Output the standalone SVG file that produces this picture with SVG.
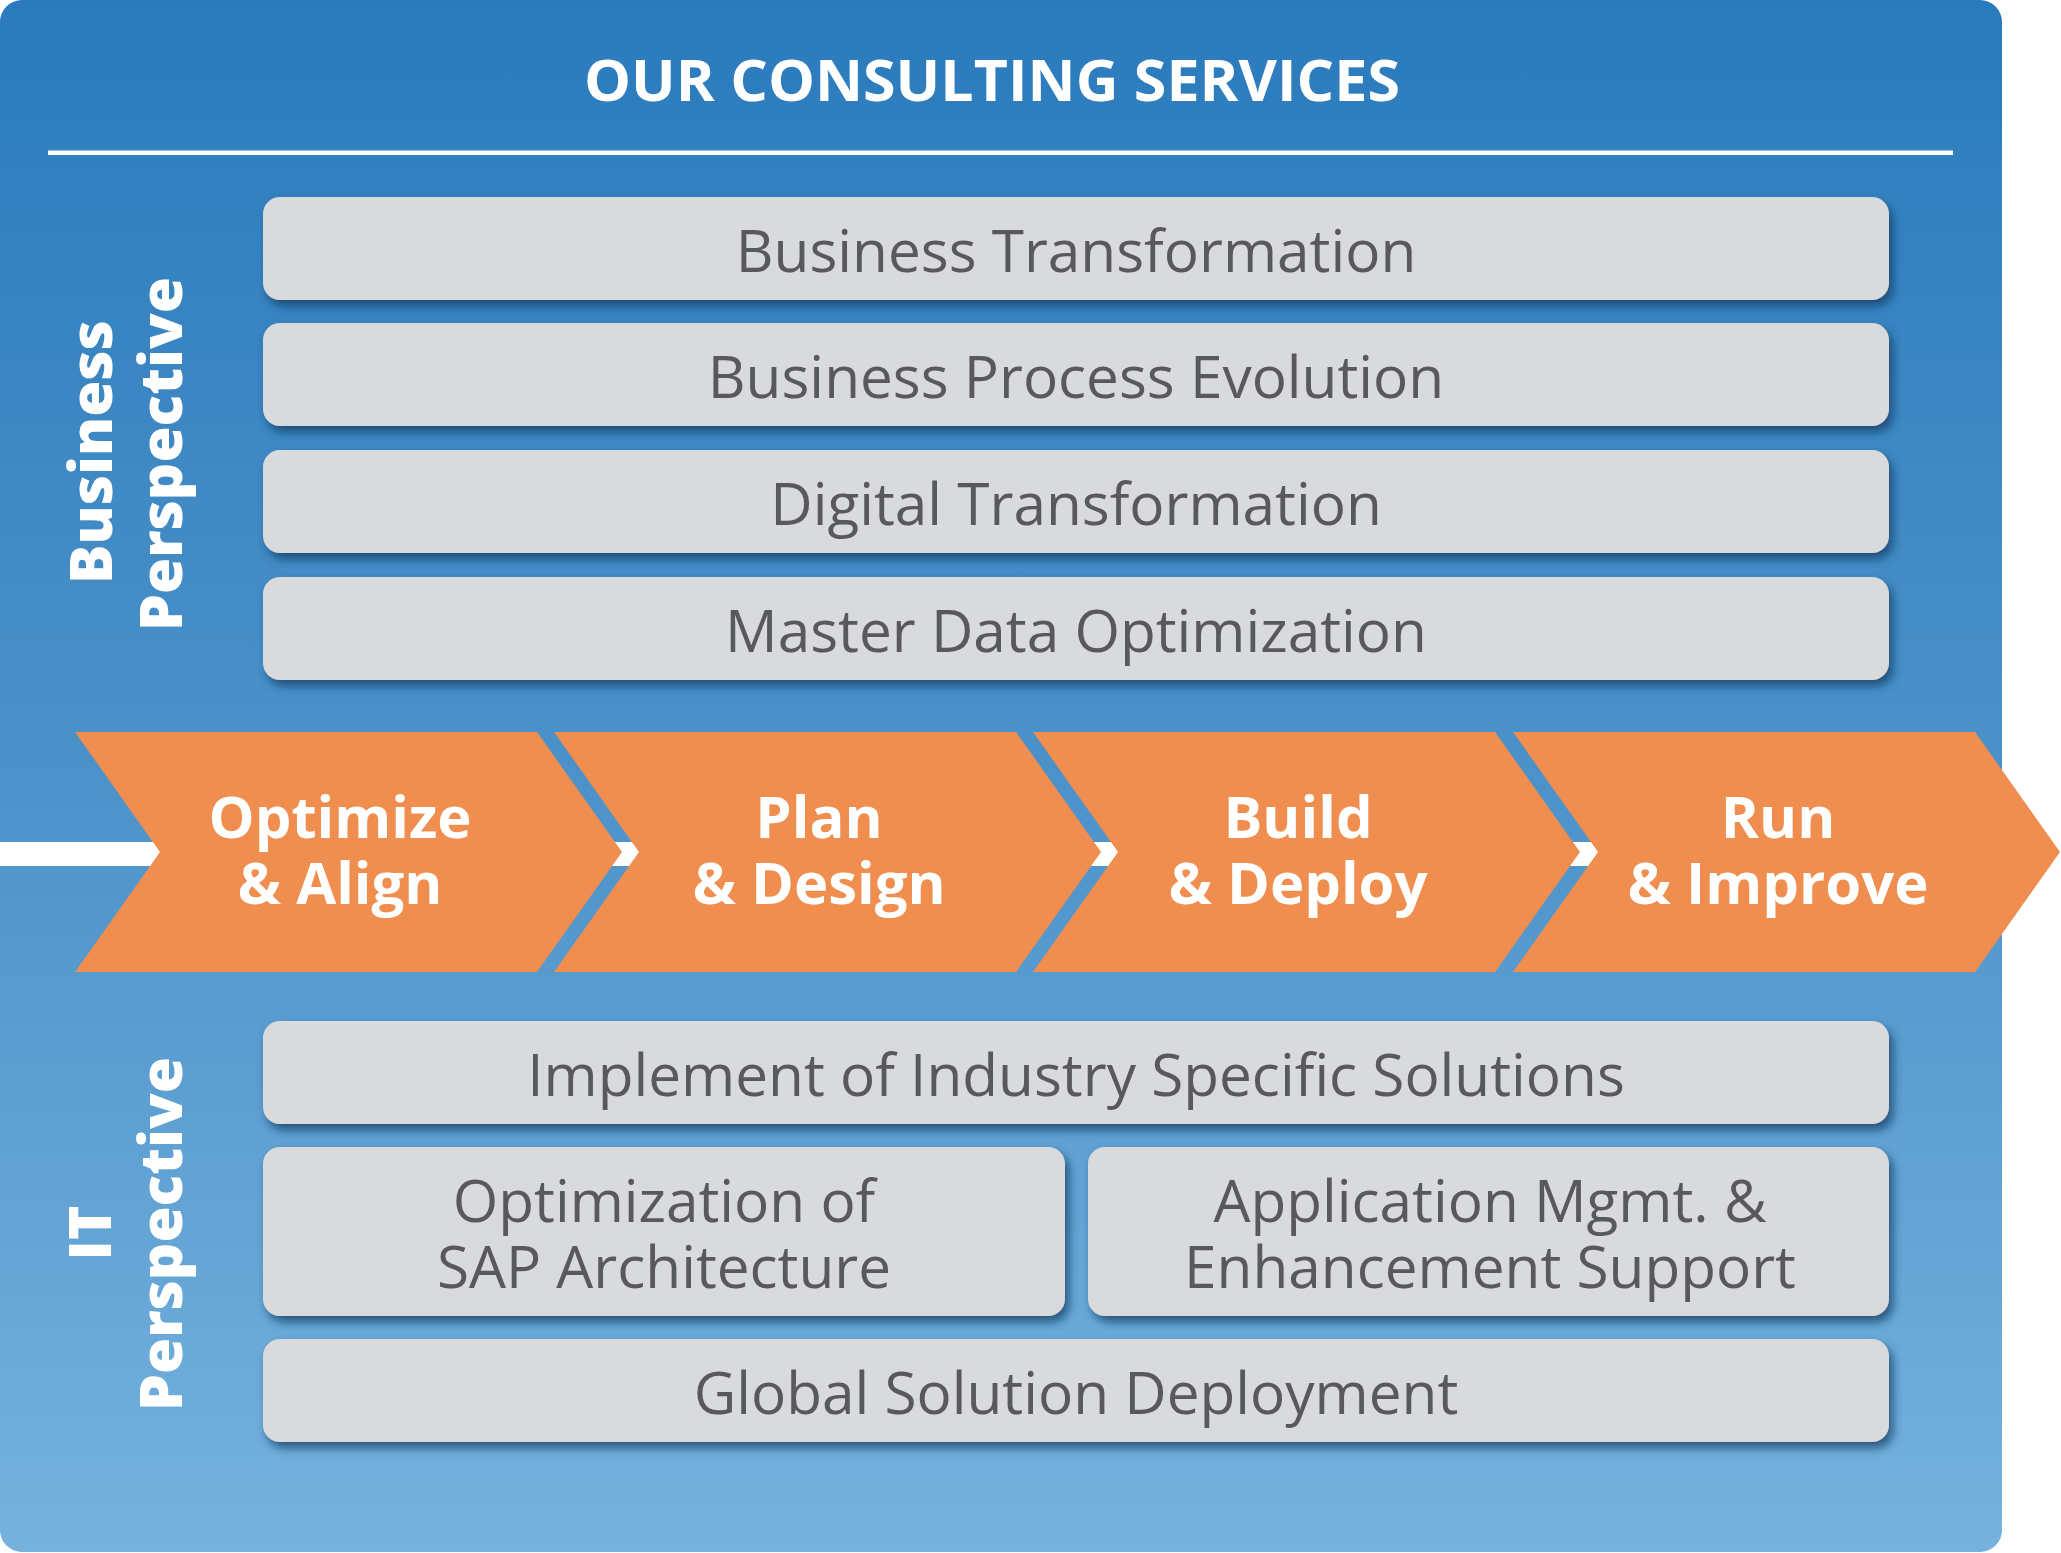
<svg xmlns="http://www.w3.org/2000/svg" width="2061" height="1553" viewBox="0 0 2061 1553">
<defs>
<linearGradient id="bg" x1="0" y1="0" x2="0" y2="1">
<stop offset="0" stop-color="#2a7bbd"/>
<stop offset="0.5" stop-color="#4c92c9"/>
<stop offset="1" stop-color="#75b2de"/>
</linearGradient>
<filter id="sh" x="-5%" y="-30%" width="110%" height="170%">
<feDropShadow dx="4" dy="6" stdDeviation="5" flood-color="#163a60" flood-opacity="0.75"/>
</filter>
<style>
.box{fill:#d9dadc;filter:url(#sh)}
.bt{font-family:"Open Sans","Liberation Sans",sans-serif;font-size:58.5px;fill:#58595b;text-anchor:middle}
.ct{font-family:"Open Sans","Liberation Sans",sans-serif;font-size:58px;font-weight:700;fill:#ffffff;text-anchor:middle}
.vt{font-family:"Open Sans","Liberation Sans",sans-serif;font-size:58.5px;font-weight:800;fill:#ffffff;text-anchor:middle}
.chev{fill:#f08e4f}
</style>
</defs>
<rect x="0" y="0" width="2002" height="1552" rx="22" fill="url(#bg)"/>
<g id="title">
<text x="992" y="101" font-family="'Open Sans','Liberation Sans',sans-serif" font-size="58" font-weight="700" fill="#ffffff" text-anchor="middle" textLength="816" lengthAdjust="spacingAndGlyphs">OUR CONSULTING SERVICES</text>
<rect x="48" y="150.5" width="1905" height="4.5" fill="#ffffff"/>
</g>
<g id="label-business">
<text class="vt" transform="translate(112,452) rotate(-90)">Business</text>
<text class="vt" transform="translate(182,454) rotate(-90)">Perspective</text>
</g>
<g id="label-it">
<text class="vt" transform="translate(111,1233) rotate(-90)">IT</text>
<text class="vt" transform="translate(182,1234) rotate(-90)">Perspective</text>
</g>
<g id="n-business-transformation">
<rect class="box" x="263" y="197" width="1626" height="103" rx="17"/>
<text class="bt" x="1076" y="272">Business Transformation</text>
</g>
<g id="n-business-process-evolution">
<rect class="box" x="263" y="323" width="1626" height="103" rx="17"/>
<text class="bt" x="1076" y="398">Business Process Evolution</text>
</g>
<g id="n-digital-transformation">
<rect class="box" x="263" y="450" width="1626" height="103" rx="17"/>
<text class="bt" x="1076" y="525">Digital Transformation</text>
</g>
<g id="n-master-data">
<rect class="box" x="263" y="577" width="1626" height="103" rx="17"/>
<text class="bt" x="1076" y="652">Master Data Optimization</text>
</g>
<g id="connectors">
<rect x="0" y="842" width="2000" height="24" fill="#ffffff"/>
</g>
<g id="n-optimize">
<polygon class="chev" points="75,732 537,732 622,852 537,972 75,972 160,852"/>
<text class="ct" x="340" y="838">Optimize</text>
<text class="ct" x="340" y="904">&amp; Align</text>
</g>
<g id="n-plan">
<polygon class="chev" points="554,732 1016,732 1101,852 1016,972 554,972 639,852"/>
<text class="ct" x="819" y="838">Plan</text>
<text class="ct" x="819" y="904">&amp; Design</text>
</g>
<g id="n-build">
<polygon class="chev" points="1033,732 1495,732 1580,852 1495,972 1033,972 1118,852"/>
<text class="ct" x="1298" y="838">Build</text>
<text class="ct" x="1298" y="904">&amp; Deploy</text>
</g>
<g id="n-run">
<polygon class="chev" points="1513,732 1975,732 2060,852 1975,972 1513,972 1598,852"/>
<text class="ct" x="1778" y="838">Run</text>
<text class="ct" x="1778" y="904">&amp; Improve</text>
</g>
<g id="n-industry">
<rect class="box" x="263" y="1021" width="1626" height="103" rx="17"/>
<text class="bt" x="1076" y="1096">Implement of Industry Specific Solutions</text>
</g>
<g id="n-sap-arch">
<rect class="box" x="263" y="1147" width="802" height="169" rx="17"/>
<text class="bt" x="664" y="1222">Optimization of</text>
<text class="bt" x="664" y="1288">SAP Architecture</text>
</g>
<g id="n-app-mgmt">
<rect class="box" x="1088" y="1147" width="801" height="169" rx="17"/>
<text class="bt" x="1490" y="1222">Application Mgmt. &amp;</text>
<text class="bt" x="1490" y="1288">Enhancement Support</text>
</g>
<g id="n-global">
<rect class="box" x="263" y="1339" width="1626" height="103" rx="17"/>
<text class="bt" x="1076" y="1414">Global Solution Deployment</text>
</g>
</svg>
